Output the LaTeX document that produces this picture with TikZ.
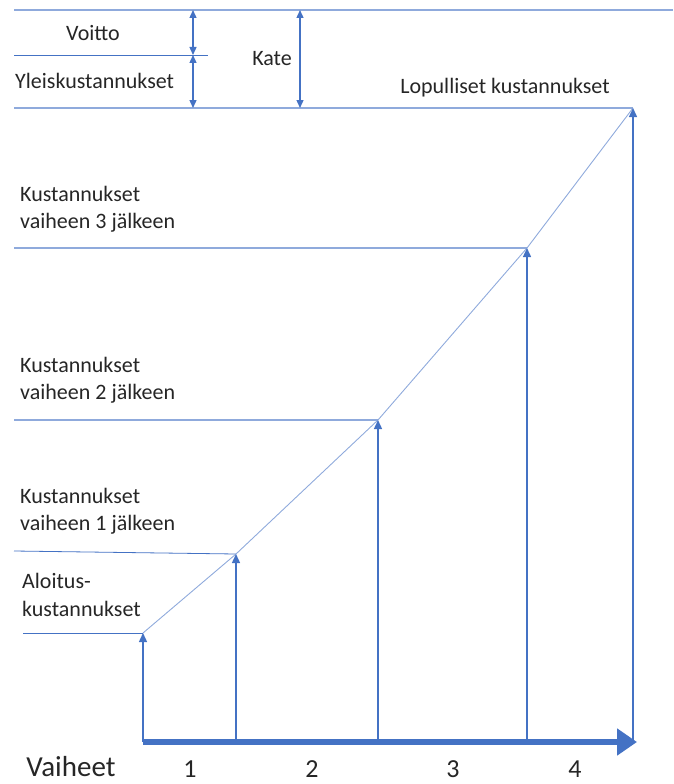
\documentclass[tikz,border=0pt]{standalone}
\usepackage{fontspec}
\setmainfont{Carlito}
\usepackage{tikz}
\usetikzlibrary{arrows.meta,positioning}

\begin{document}
\begin{tikzpicture}[
    x=1pt, y=-1pt,
    font=\fontsize{22}{27.5}\selectfont,
    lbl/.style={inner sep=0pt, align=left, text=black!85},
    level/.style={draw=lineb, line width=1.2pt},
    thinlevel/.style={draw=darkb, line width=0.8pt},
    rise/.style={draw=lineb, line width=0.9pt},
    stage/.style={draw=darkb, line width=1.4pt, -{Triangle[length=9pt, width=8pt]}},
    span/.style={draw=darkb, line width=1.4pt, {Triangle[length=8pt, width=7pt]}-{Triangle[length=8pt, width=7pt]}},
    axis/.style={draw=darkb, line width=5.5pt, -{Triangle[length=20pt, width=26pt]}},
    stepno/.style={lbl, font=\fontsize{26}{28}\selectfont}
  ]
    \definecolor{darkb}{RGB}{68,114,196}
    \definecolor{lineb}{RGB}{143,170,220}

    \useasboundingbox (0,0) rectangle (673,784);

    % cost levels on the vertical scale
    \coordinate (c0) at (143,633);
    \coordinate (c1) at (236,554);
    \coordinate (c2) at (378,420);
    \coordinate (c3) at (527,248);
    \coordinate (c4) at (633,108);

    % stage axis
    \coordinate (b0) at (143,742);
    \coordinate (b1) at (236,742);
    \coordinate (b2) at (378,742);
    \coordinate (b3) at (527,742);
    \coordinate (b4) at (633,742);
    \coordinate (bend) at (637,742);

    % top band
    \coordinate (topl) at (14,10);
    \coordinate (topr) at (673,10);
    \coordinate (midl) at (14,55);
    \coordinate (midr) at (208,55);
    \coordinate (fin) at (14,108);
    \coordinate (v0) at (193,10);
    \coordinate (v1) at (193,55);
    \coordinate (v2) at (193,108);
    \coordinate (k0) at (300,10);
    \coordinate (k1) at (300,108);

    \coordinate (l3) at (14,248);
    \coordinate (l2) at (14,420);
    \coordinate (l1a) at (14,551);
    \coordinate (l0) at (23,633);

    \draw[level] (topl) -- (topr);
    \draw[thinlevel] (midl) -- (midr);
    \draw[level] (fin) -- (c4);
    \draw[level] (l3) -- (c3);
    \draw[level] (l2) -- (c2);
    \draw[thinlevel] (l1a) -- (c1);
    \draw[thinlevel] (l0) -- (c0);

    \draw[rise] (c0) -- (c1) -- (c2) -- (c3) -- (c4);

    \draw[stage] (b0) -- (c0);
    \draw[stage] (b1) -- (c1);
    \draw[stage] (b2) -- (c2);
    \draw[stage] (b3) -- (c3);
    \draw[stage] (b4) -- (c4);
    \draw[axis] (b0) -- (bend);

    \draw[span] (v0) -- (v1);
    \draw[span] (v1) -- (v2);
    \draw[span] (k0) -- (k1);

    \node[lbl] (voitto) at (93,33) {Voitto};
    \node[lbl, anchor=west] (yleis) at (15,81) {Yleiskustannukset};
    \node[lbl] (kate) at (272,59) {Kate};
    \node[lbl] (lop) at (505,88) {Lopulliset kustannukset};
    \node[lbl, anchor=west] (k3) at (20,209) {Kustannukset\\vaiheen 3 jälkeen};
    \node[lbl, anchor=west] (k2) at (20,380) {Kustannukset\\vaiheen 2 jälkeen};
    \node[lbl, anchor=west] (k1) at (20,511) {Kustannukset\\vaiheen 1 jälkeen};
    \node[lbl, anchor=west] (k0) at (22,595) {Aloitus-\\kustannukset};

    \node[lbl, font=\fontsize{29}{32}\selectfont] (vaiheet) at (71,767) {Vaiheet};
    \node[stepno] (s1) at (190,769) {1};
    \node[stepno] (s2) at (312,769) {2};
    \node[stepno] (s3) at (453,769) {3};
    \node[stepno] (s4) at (575,769) {4};
  \end{tikzpicture}
\end{document}
